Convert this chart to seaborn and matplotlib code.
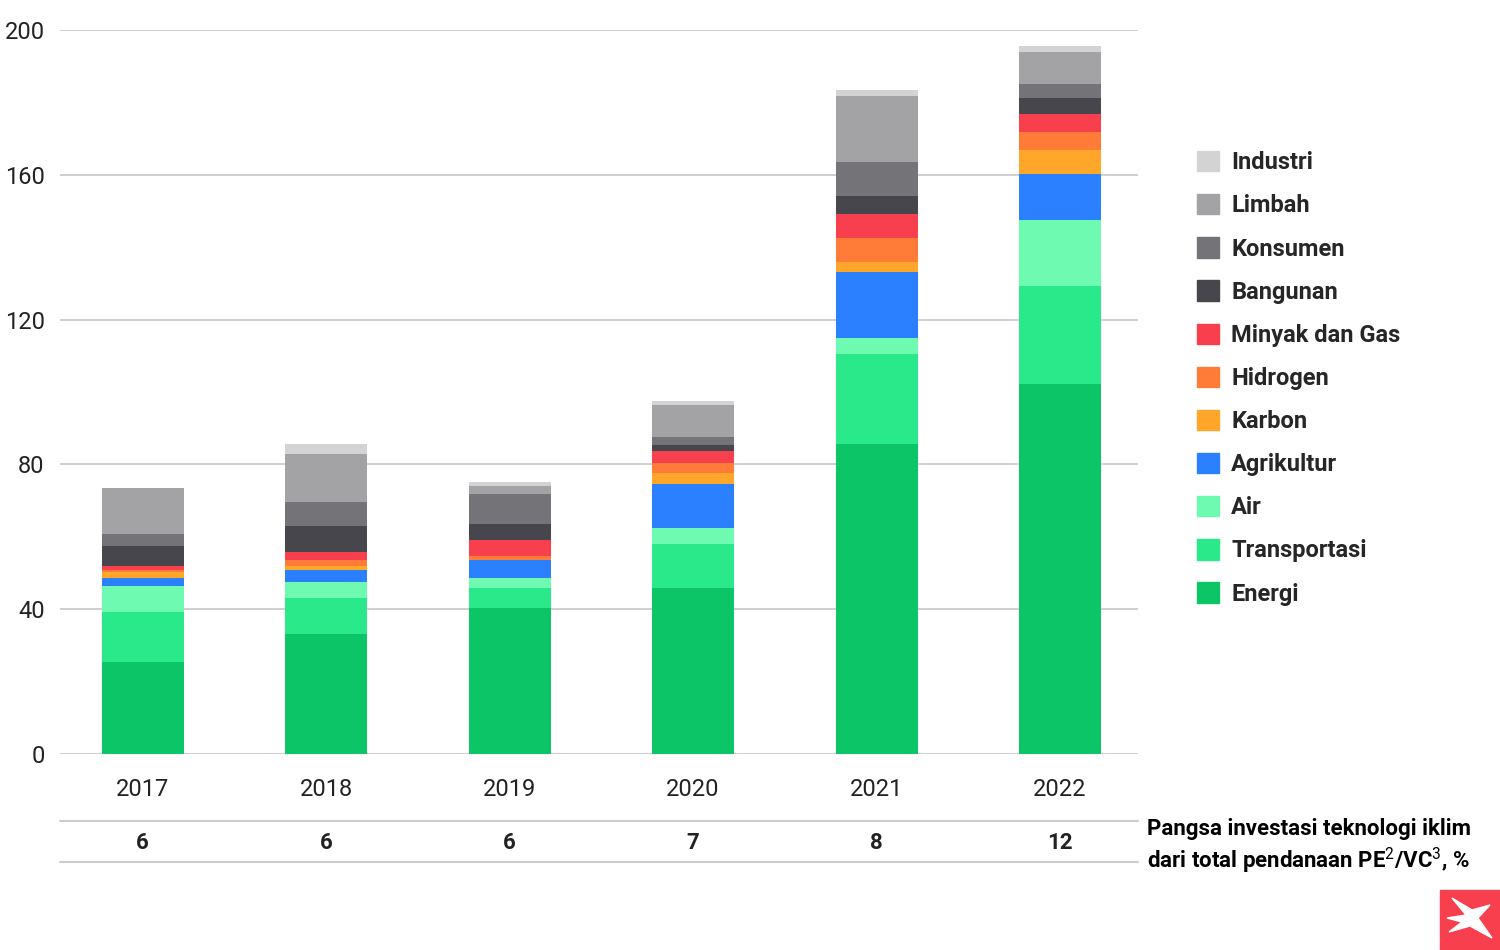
import matplotlib
matplotlib.use("Agg")
import matplotlib.pyplot as plt
import matplotlib.patches as mpatches
import seaborn as sns
import pandas as pd
import numpy as np

# data (USD bn, stacked by sector)
years = ["2017", "2018", "2019", "2020", "2021", "2022"]
sectors = ["Energi", "Transportasi", "Air", "Agrikultur", "Karbon", "Hidrogen",
           "Minyak dan Gas", "Bangunan", "Konsumen", "Limbah", "Industri"]
energi = [25.4, 33.1, 40.3, 45.9, 85.6, 102.2]
transportasi = [13.8, 9.9, 5.5, 12.2, 24.9, 27.1]
air = [7.2, 4.4, 2.8, 4.4, 4.4, 18.2]
agrikultur = [2.2, 3.3, 5.0, 12.2, 18.2, 12.7]
karbon = [1.7, 1.1, 0.0, 2.8, 2.8, 6.6]
hidrogen = [0.6, 1.7, 1.1, 2.8, 6.6, 5.0]
minyak_gas = [1.1, 2.2, 4.4, 3.3, 6.6, 5.0]
bangunan = [5.5, 7.2, 4.4, 1.7, 5.0, 4.4]
konsumen = [3.3, 6.6, 8.3, 2.2, 9.4, 3.9]
limbah = [12.7, 13.3, 2.2, 8.8, 18.2, 8.8]
industri = [0.0, 2.8, 1.1, 1.1, 1.7, 1.7]
share_pct = [6, 6, 6, 7, 8, 12]

colors = {
    "Energi": "#0bc566",
    "Transportasi": "#2ae98a",
    "Air": "#6ffab1",
    "Agrikultur": "#2a80fe",
    "Karbon": "#ffa62b",
    "Hidrogen": "#fe7b38",
    "Minyak dan Gas": "#f83f4e",
    "Bangunan": "#47464c",
    "Konsumen": "#747378",
    "Limbah": "#a3a3a5",
    "Industri": "#d3d3d3",
}

values = [energi, transportasi, air, agrikultur, karbon, hidrogen,
          minyak_gas, bangunan, konsumen, limbah, industri]
df = pd.DataFrame({"year": years})
for name, vals in zip(sectors, values):
    df[name] = vals

sns.set_theme(style="white")
plt.rcParams["font.family"] = ["Roboto", "DejaVu Sans"]
plt.rcParams["mathtext.fontset"] = "custom"
plt.rcParams["mathtext.rm"] = "Roboto"
plt.rcParams["mathtext.bf"] = "Roboto:bold"

fig = plt.figure(figsize=(15, 9.5), dpi=100)
ax = fig.add_axes([0.04, 1 - 754 / 950, 0.7187, 724 / 950])

# stacked bars: one barplot per sector on top of the previous ones
bottom = np.zeros(len(years))
for name in sectors:
    sns.barplot(data=df, x="year", y=name, color=colors[name], width=0.447,
                bottom=bottom, ax=ax, saturation=1, linewidth=0)
    bottom += df[name].values

ax.set_ylim(0, 200)
ax.set_xlim(-0.45, 5.425)
ax.set_yticks([0, 40, 80, 120, 160, 200])
ax.set_xlabel("")
ax.set_ylabel("")
ax.yaxis.grid(True, color="#cccccc", linewidth=1.3)
ax.set_axisbelow(True)
for s in ax.spines.values():
    s.set_visible(False)
ax.tick_params(axis="both", length=0, labelsize=17, labelcolor="#222222")
ax.tick_params(axis="x", pad=17)
ax.tick_params(axis="y", pad=11)

# share row under the years
tr = ax.get_xaxis_transform()
for yy in [-0.0925, -0.149]:
    ax.plot([-0.45, 5.425], [yy, yy], transform=tr, color="#cccccc",
            linewidth=1.5, clip_on=False)
for i, v in enumerate(share_pct):
    ax.text(i, -0.1225, str(v), transform=tr, ha="center", va="center",
            fontsize=16, fontweight="bold", color="#222222")

fig.text(1147 / 1500, 1 - 829 / 950, "Pangsa investasi teknologi iklim",
         ha="left", va="center", fontsize=16, fontweight="bold", color="black")
fig.text(1147 / 1500, 1 - 861 / 950, r"dari total pendanaan PE$^2$/VC$^3$, %",
         ha="left", va="center", fontsize=16, fontweight="bold", color="black")

# legend, top entry = top of stack
handles = [mpatches.Patch(color=colors[n], label=n) for n in sectors[::-1]]
leg = fig.legend(handles=handles, loc="upper left",
                 bbox_to_anchor=(1197 / 1500, 1 - 151 / 950), frameon=False,
                 fontsize=17, handlelength=0.95, handleheight=0.95,
                 handletextpad=0.5, labelspacing=0.84, borderaxespad=0,
                 borderpad=0)
for t in leg.get_texts():
    t.set_fontweight("bold")

# logo corner
fig.patches.append(mpatches.Rectangle((1440 / 1500, 0), 60 / 1500, 60 / 950,
                                      transform=fig.transFigure,
                                      color="#f83f4e", zorder=5))
logo = np.array([[1447, 918], [1466, 915], [1452, 898], [1472, 910],
                 [1490, 905], [1478, 918], [1492, 938], [1470, 926],
                 [1449, 932], [1462, 922]])
fig.patches.append(mpatches.Polygon(np.column_stack([logo[:, 0] / 1500,
                                                     1 - logo[:, 1] / 950]),
                                    closed=True, transform=fig.transFigure,
                                    color="white", zorder=6))

fig.savefig("out.png", dpi=100)
